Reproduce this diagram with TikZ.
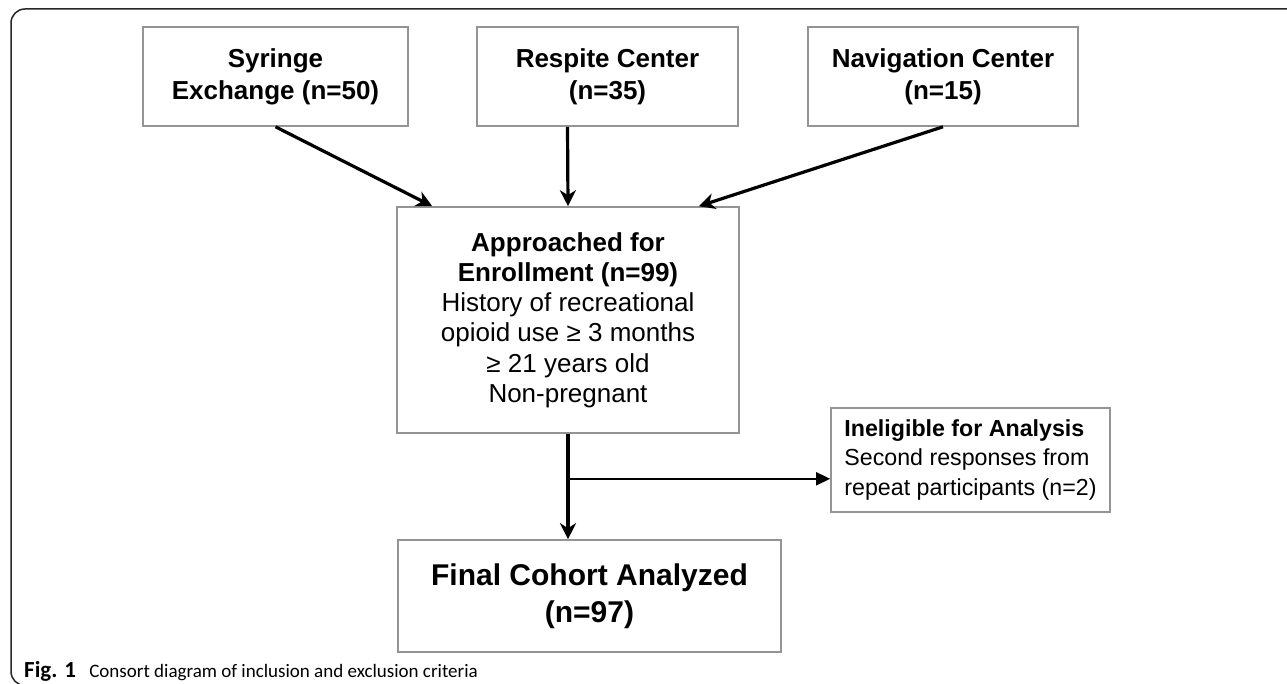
\documentclass[tikz,border=0pt]{standalone}
\usepackage{fontspec}
\setmainfont{Liberation Sans}
\newfontfamily\capfont{Carlito}
\usetikzlibrary{arrows.meta,calc}
\tikzset{
  box/.style={draw=black!42, line width=1.6pt, inner sep=0pt, align=center, font=\fontsize{26}{32}\selectfont},
  bigarrow/.style={line width=3.2pt, -{Stealth[length=16pt,width=16pt,inset=5pt]}},
  thinarrow/.style={line width=1.7pt, -{Triangle[length=14pt,width=13pt]}},
  frame/.style={draw=black!85, line width=1.5pt, rounded corners=14pt}
}
\begin{document}
\begin{tikzpicture}[x=1pt,y=-1pt]
\useasboundingbox (0,0) rectangle (1287,684);
\draw[frame] (60,685.5) -- (11,685.5) -- (11,9) -- (1300,9);
% top boxes
\node[box, minimum width=265pt, minimum height=99pt] (syr) at (275.5,76.5) {\bfseries Syringe\\\bfseries Exchange (n=50)};
\node[box, minimum width=261pt, minimum height=99pt] (res) at (607.5,76.5) {\bfseries Respite Center\\\bfseries (n=35)};
\node[box, minimum width=270pt, minimum height=99pt] (nav) at (943,76.5) {\bfseries Navigation Center\\\bfseries (n=15)};
% approached
\node[box, minimum width=342pt, minimum height=226pt, font=\fontsize{26}{30.2}\selectfont] (app) at (568,320) {\bfseries Approached for\\\bfseries Enrollment (n=99)\\History of recreational\\opioid use ≥ 3 months\\≥ 21 years old\\Non-pregnant};
% ineligible
\node[box, minimum width=279pt, minimum height=104pt, align=left, font=\fontsize{23.2}{29.5}\selectfont] (ine) at (970.5,460) {\bfseries Ineligible for Analysis\\Second responses from\\repeat participants (n=2)};
% final
\node[box, minimum width=383pt, minimum height=112pt, font=\fontsize{30}{37}\selectfont] (fin) at (589.5,596) {\bfseries Final Cohort Analyzed\\\bfseries (n=97)};
% arrows
\draw[bigarrow] (syr.south) -- ([xshift=36pt]app.north west);
\draw[bigarrow] ([xshift=-40pt]res.south) -- (app.north);
\draw[bigarrow] (nav.south) -- ([xshift=-41pt]app.north east);
\draw[bigarrow] (app.south) -- (app.south |- fin.north);
\coordinate (br) at ([yshift=-45pt]app.south);
\draw[thinarrow] (br) -- (br -| ine.west);
% caption
\node[anchor=base west, inner sep=0pt, font=\capfont\fontsize{19}{24}\selectfont] (cap) at (24,677) {{\fontsize{23}{24}\selectfont\textbf{Fig. 1}}\hspace{0.7em}Consort diagram of inclusion and exclusion criteria};
\end{tikzpicture}
\end{document}
